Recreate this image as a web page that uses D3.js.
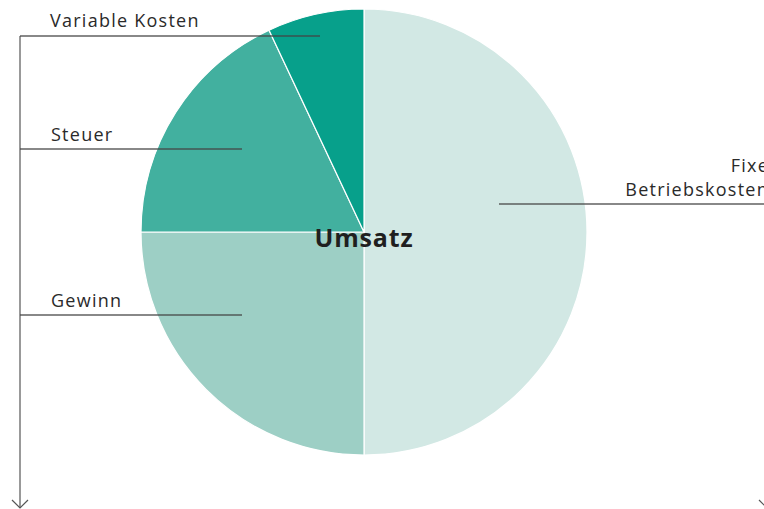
<!DOCTYPE html>
<html>
<head>
<meta charset="utf-8">
<script src="https://cdn.jsdelivr.net/npm/d3@7"></script>
<style>
  body { margin: 0; background: #fff; }
  svg { display: block; font-family: "Open Sans", "Liberation Sans", sans-serif; }
</style>
</head>
<body>
<svg id="chart"></svg>
<script>
const categories = ["Fixe Betriebskosten", "Gewinn", "Steuer", "Variable Kosten"];
const values = [50, 25, 18, 7];
const colors = ["#d2e8e4", "#9dcfc5", "#42b09f", "#07a08b"];
const centerLabel = "Umsatz";

const width = 764, height = 509;
const cx = 364, cy = 232, radius = 223;

const svg = d3.select("#chart")
    .attr("width", width)
    .attr("height", height);

// label placement (text + leader line)
const labels = {
    "Variable Kosten": { lines: ["Variable Kosten"], x: 50, y: 27, lineY: 36, x1: 20, x2: 320, anchor: "start" },
    "Steuer": { lines: ["Steuer"], x: 51, y: 141, lineY: 149, x1: 20, x2: 242, anchor: "start" },
    "Gewinn": { lines: ["Gewinn"], x: 51, y: 307, lineY: 315, x1: 20, x2: 242, anchor: "start" },
    "Fixe Betriebskosten": { lines: ["Fixe", "Betriebskosten"], x: 769, y: 172, lineY: 204, x1: 499, x2: 764, anchor: "end" }
};

const pie = d3.pie().sort(null).value(d => d.value);
const arc = d3.arc().innerRadius(0).outerRadius(radius);

const data = categories.map((c, i) => ({ name: c, value: values[i], color: colors[i] }));

const g = svg.append("g").attr("transform", `translate(${cx},${cy})`);

g.selectAll("path")
    .data(pie(data))
    .enter().append("path")
    .attr("d", arc)
    .attr("fill", d => d.data.color)
    .attr("stroke", "#fff")
    .attr("stroke-width", 1.2);

// vertical guide with arrow
svg.append("line")
    .attr("x1", 20).attr("x2", 20)
    .attr("y1", 36).attr("y2", 508)
    .attr("stroke", "#777").attr("stroke-width", 1.5);
svg.append("path")
    .attr("d", "M12,500 L20,508 L28,500")
    .attr("fill", "none").attr("stroke", "#555").attr("stroke-width", 1.2);
svg.append("path")
    .attr("d", "M759,500 L767,508 L775,500")
    .attr("fill", "none").attr("stroke", "#555").attr("stroke-width", 1.2);

// leader lines and labels
categories.forEach(c => {
    const l = labels[c];
    svg.append("line")
        .attr("x1", l.x1).attr("x2", l.x2)
        .attr("y1", l.lineY).attr("y2", l.lineY)
        .attr("stroke", "#444").attr("stroke-opacity", 0.85).attr("stroke-width", 1.5);
    const t = svg.append("text")
        .attr("x", l.x).attr("y", l.y)
        .attr("text-anchor", l.anchor)
        .style("font-size", "18px")
        .style("letter-spacing", "1.25px")
        .style("fill", "#2a2a2a");
    l.lines.forEach((s, i) => {
        t.append("tspan").attr("x", l.x).attr("dy", i === 0 ? 0 : 24).text(s);
    });
});

svg.append("text")
    .attr("x", cx).attr("y", cy + 15)
    .attr("text-anchor", "middle")
    .style("font-size", "25px")
    .style("font-weight", "bold")
    .style("letter-spacing", "0.8px")
    .style("fill", "#1f1f1f")
    .text(centerLabel);
</script>
</body>
</html>
